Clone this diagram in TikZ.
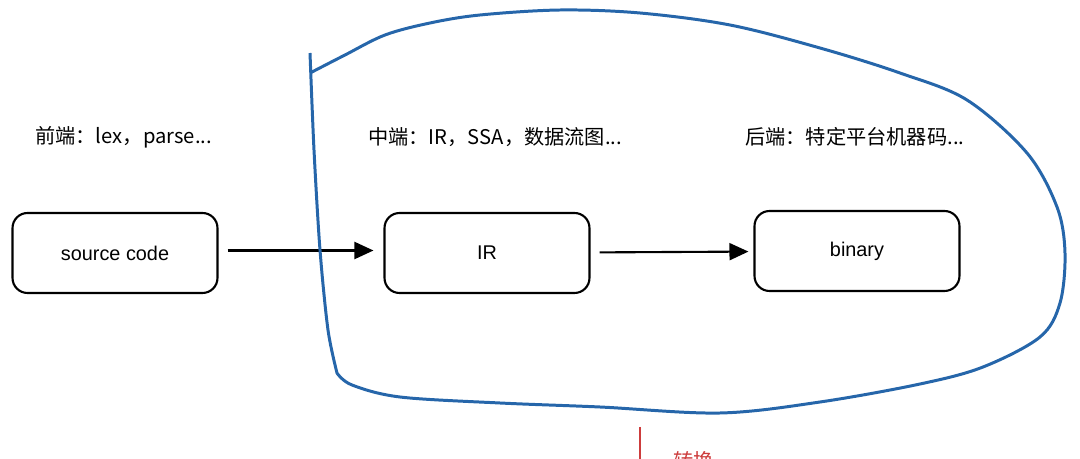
\documentclass[tikz,border=0pt]{standalone}
\usepackage{fontspec}
\setmainfont{Liberation Sans}
\newfontfamily\cjk{Noto Sans CJK SC}
\usetikzlibrary{positioning}
\usetikzlibrary{arrows.meta}
\definecolor{blobblue}{RGB}{38,102,170}
\definecolor{convred}{RGB}{205,60,60}

\begin{document}
\begin{tikzpicture}
    [x=0.02cm, y=-0.02cm,
    stage/.style={draw, rounded corners=0.3cm, line width=1.2pt, minimum width=4.1cm, minimum height=1.6cm, font=\fontsize{11.3}{13}\selectfont},
    note/.style={anchor=west, inner sep=0pt, font=\cjk\fontsize{11.5}{13}\selectfont},
    flow/.style={-{Triangle[length=0.38cm, width=0.34cm]}, line width=1.2pt, shorten <=0.18cm, shorten >=0.2cm}]
    \clip (0,0) rectangle (1080,459);
    %\draw[step=1cm,gray,very thin] (0,0) grid (1080,459);
    \node[note]  (fe) at (35, 137)  {前端：lex，parse...};
    \node[note]  (me) at (368, 137)  {中端：IR，SSA，数据流图...};
    \node[note]  (be) at (745, 137)  {后端：特定平台机器码...};
    \node[stage] (src) at (115, 253)  {source code};
    \node[stage] (ir) at (487, 253)  {IR};
    \node[stage] (bin) at (857, 251)  {binary};
    \draw[flow] ([yshift=0.05cm]src.east) -- ([yshift=0.05cm]ir.west);
    \draw[flow, shorten >=0.1cm] (ir) -- (bin);
    % blue outline round the middle and back end
    \draw[blobblue, line width=1.7pt, line join=round]
        plot[smooth, tension=0.55] coordinates {(312,72) (345,55) (385,35) (430,23) (480,15) (560,10) (640,13) (730,25) (820,48) (900,73) (967,100) (1027,153) (1057,207) (1065,253) (1060,303) (1040,337) (983,367) (920,384) (820,402) (720,413) (600,407) (500,403) (400,397) (352,385) (337,373)}
        -- plot[smooth, tension=0.5] coordinates {(337,373) (328,330) (320,250) (314,150) (310,53)};
    \node[anchor=north west, inner sep=0pt, text=convred, font=\cjk\fontsize{11.5}{13}\selectfont] (conv) at (673, 451) {转换};
    \coordinate (cut) at (640, 427);
    \draw[convred, line width=0.6pt] (cut) -- (cut |- conv.south);
\end{tikzpicture}
\end{document}
